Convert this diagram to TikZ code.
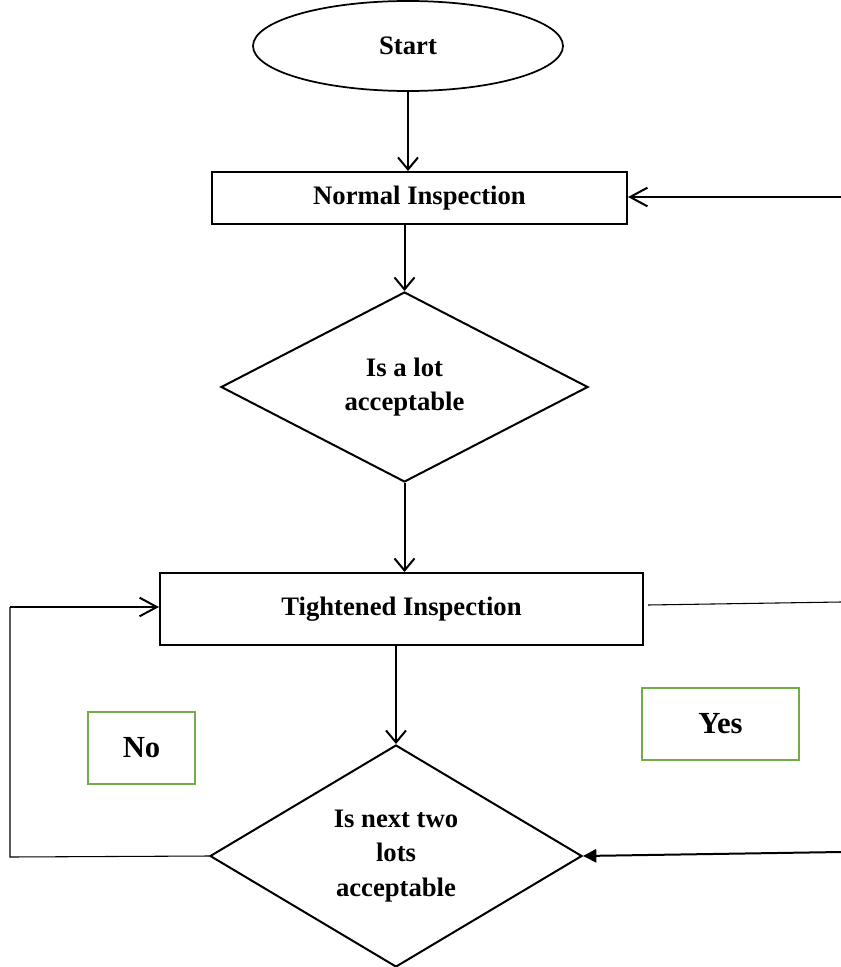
\documentclass[tikz,border=0pt]{standalone}
\usepackage{fontspec}
\setmainfont{Liberation Serif}
\usetikzlibrary{shapes.geometric,arrows.meta}
\definecolor{lblgreen}{RGB}{112,173,71}

\begin{document}
\begin{tikzpicture}[x=0.75pt, y=-0.75pt, font=\bfseries\fontsize{20}{26}\selectfont,
      trm/.style={draw, ellipse, line width=1.3pt, minimum width=232.5pt, minimum height=67.5pt},
      prc/.style={draw, rectangle, line width=1.5pt, inner sep=0pt},
      dcs/.style={draw, diamond, line width=1.5pt, align=center, inner sep=0pt},
      lbl/.style={draw=lblgreen, line width=2pt, minimum height=54pt, font=\bfseries\fontsize{23}{28}\selectfont},
      arv/.style={line width=1.5pt, -{Straight Barb[length=9pt, width=15pt, line width=1.5pt]}},
      arh/.style={line width=1.5pt, -{Straight Barb[length=13pt, width=14pt, line width=1.5pt]}},
      arf/.style={line width=1.5pt, -{Triangle[length=10pt, width=10pt]}},
      ln/.style={line width=0.8pt}]
    \useasboundingbox (0,0) rectangle (841,967);
    \node[trm] (start) at (408,46)    {Start};
    \node[prc, minimum width=311.25pt, minimum height=39pt] (normal) at (419.5,198) {Normal Inspection};
    \node[dcs, minimum width=275.25pt, minimum height=142.5pt, aspect=1.93] (lot) at (404.5,387) {Is a lot\\acceptable};
    \node[prc, minimum width=362.25pt, minimum height=54pt] (tight) at (401.5,609) {Tightened Inspection};
    \node[dcs, minimum width=279pt, minimum height=166.5pt, aspect=1.68] (two) at (396,856) {Is next two\\lots\\acceptable};
    \node[lbl, minimum width=80.25pt] (no) at (141.5,748)  {No};
    \node[lbl, minimum width=117.75pt] (yes) at (720.5,724) {Yes};
    \coordinate (rin) at (841,197);
    \coordinate (rt) at (841,602);
    \coordinate (rb) at (841,852);
    \coordinate (lb) at (10,857);
    \coordinate (lt) at (10,607);
    \draw[arv] (start) -- (start |- normal.north);
    \draw[arv] (lot.north |- normal.south) -- (lot.north);
    \draw[arv] (lot) -- (lot |- tight.north);
    \draw[arv] (two.north |- tight.south) -- (two);
    \draw[arh] (rin) -- (rin -| normal.east);
    \draw[ln] ([xshift=3pt, yshift=3pt]tight.east) -- (rt);
    \draw[arf] (rb) -- (two.east);
    \draw[ln] (two.west) -- (lb) -- (lt);
    \draw[arh] (lt) -- (lt -| tight.west);
  \end{tikzpicture}
\end{document}
